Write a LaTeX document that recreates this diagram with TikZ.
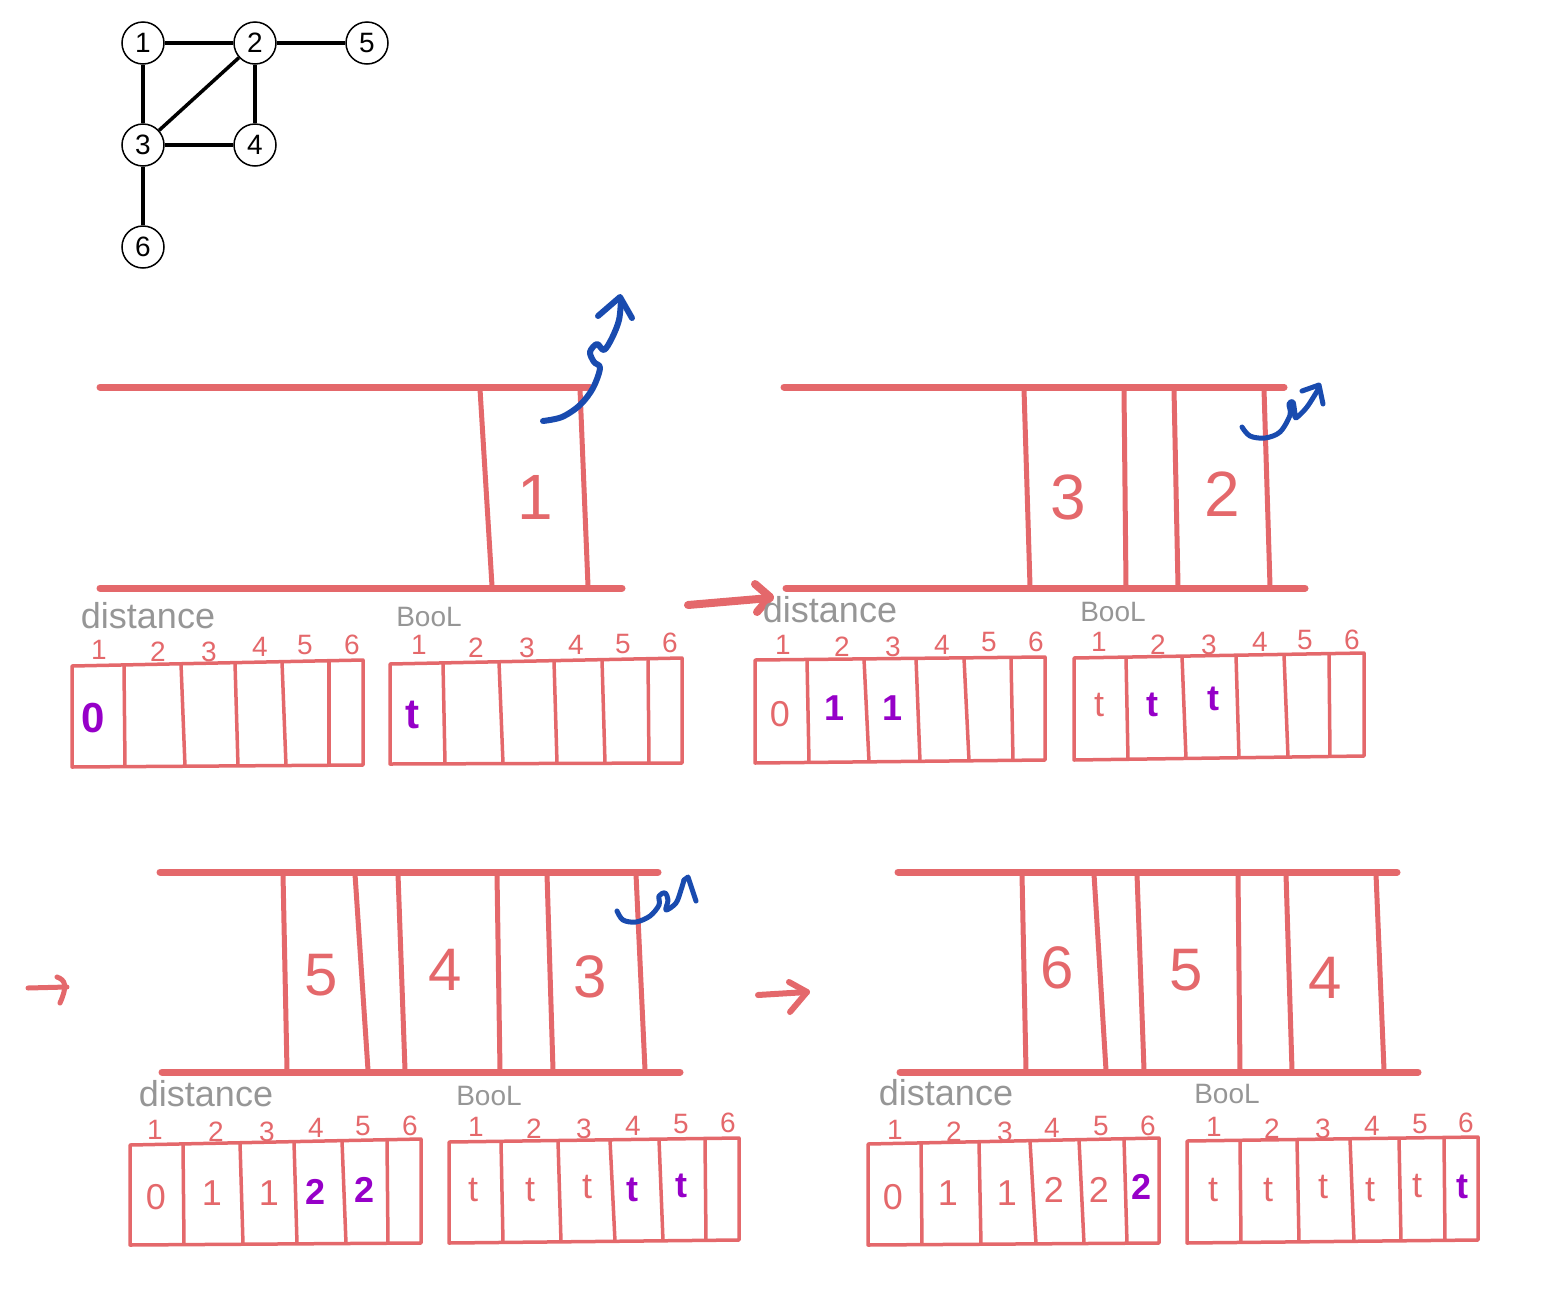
\documentclass[tikz,border=0pt]{standalone}
\usepackage{fontspec}
\setmainfont{Liberation Sans}
\usetikzlibrary{calc}
\definecolor{qred}{RGB}{228,104,107}
\definecolor{qpurple}{RGB}{150,0,200}
\definecolor{qblue}{RGB}{25,75,175}
\definecolor{qgray}{RGB}{150,150,150}
\newcommand\cellbox[8]{%
  \coordinate (#1-tl) at (#2,#4); \coordinate (#1-tr) at (#3,#5);
  \coordinate (#1-br) at (#3,#7); \coordinate (#1-bl) at (#2,#6);
  \draw[cell] (#1-tl) -- (#1-tr) -- (#1-br) -- (#1-bl) -- cycle;
  \foreach \t/\b in {#8}{%
    \pgfmathsetmacro\ft{(\t-#2)/(#3-#2)}%
    \pgfmathsetmacro\fb{(\b-#2)/(#3-#2)}%
    \draw[cell] ($(#1-tl)!\ft!(#1-tr)$) -- ($(#1-bl)!\fb!(#1-br)$);
  }}
\begin{document}
\begin{tikzpicture}[x=0.5pt,y=-0.5pt,
  vtx/.style={circle,draw,line width=0.75pt,minimum size=21pt,inner sep=0pt,font=\fontsize{14}{14}\selectfont},
  edge/.style={line width=1.75pt},
  qline/.style={qred,line width=3.5pt,line cap=round},
  qwall/.style={qred,line width=2.5pt},
  cell/.style={qred,line width=1.75pt,line join=round},
  qlab/.style={text=qred,font=\fontsize{32}{32}\selectfont,inner sep=0pt},
  idx/.style={text=qred,font=\fontsize{14}{14}\selectfont,inner sep=0pt},
  val/.style={text=qred,font=\fontsize{18}{18}\selectfont,inner sep=0pt},
  pval/.style={text=qpurple,font=\fontsize{18}{18}\selectfont\bfseries,inner sep=0pt},
  dlab/.style={text=qgray,font=\fontsize{18}{18}\selectfont,inner sep=0pt},
  blab/.style={text=qgray,font=\fontsize{14}{14}\selectfont,inner sep=0pt},
  bluearr/.style={qblue,line width=3pt,line cap=round,line join=round},
  redarr/.style={qred,line width=3.5pt,line cap=round,line join=round}]
\useasboundingbox (0,0) rectangle (1559,1296);

% ---------- graph ----------
\node[vtx] (g1) at (143,43) {1};
\node[vtx] (g2) at (255,43) {2};
\node[vtx] (g5) at (367,43) {5};
\node[vtx] (g3) at (143,145) {3};
\node[vtx] (g4) at (255,145) {4};
\node[vtx] (g6) at (143,247) {6};
\draw[edge] (g1) -- (g2);
\draw[edge] (g2) -- (g5);
\draw[edge] (g1) -- (g3);
\draw[edge] (g2) -- (g3);
\draw[edge] (g2) -- (g4);
\draw[edge] (g3) -- (g4);
\draw[edge] (g3) -- (g6);

% ---------- queue 1 ----------
\draw[qline] (100,387) -- (590,387);
\draw[qline] (100,588) -- (622,588);
\draw[qwall] (480,389) -- (492,586);
\draw[qwall] (580,389) -- (588,586);
\node[qlab] (q1a) at (535,497) {1};
\draw[bluearr] plot[smooth,tension=0.55] coordinates {(543,421) (562,417) (580,405) (593,388) (600,368) (594,362) (590,352) (597,344) (604,350) (612,338) (619,320) (621,300)};
\draw[bluearr] (598,316) -- (620,297) -- (632,318);

% ---------- queue 2 ----------
\draw[qline] (784,387) -- (1284,387);
\draw[qline] (786,588) -- (1305,588);
\draw[qwall] (1024,389) -- (1030,586);
\draw[qwall] (1124,389) -- (1126,586);
\draw[qwall] (1174,389) -- (1178,586);
\draw[qwall] (1264,389) -- (1270,586);
\node[qlab] (q2a) at (1068,497) {3};
\node[qlab] (q2b) at (1222,494) {2};
\draw[bluearr,line width=2.5pt] plot[smooth,tension=0.55] coordinates {(1242,427) (1250,436) (1265,438) (1280,432) (1290,415) (1289,404) (1293,402) (1295,414) (1296,418) (1307,407) (1319,388)};
\draw[bluearr,line width=2.5pt] (1302,391) -- (1319,385) -- (1323,404);

% arrow queue1 -> queue2
\coordinate (ra1) at (688,605);
\coordinate (ra2) at (770,598);
\draw[redarr,line width=4pt] (ra1) -- (ra2);
\draw[redarr,line width=4pt] (755,584) -- (770,597) -- (757,612);

% ---------- arrays, row 1 ----------
\node[dlab] (d1lab) at (148,616) {distance};
\node[blab] (b1lab) at (429,617) {BooL};
\foreach \x/\y [count=\i] in {99/650,158/652,209/652,260/647,305/645,352/645}
  \node[idx] (d1i\i) at (\x,\y) {\i};
\foreach \x/\y [count=\i] in {419/645,476/648,527/648,576/645,623/644,670/643}
  \node[idx] (b1i\i) at (\x,\y) {\i};
\cellbox{d1}{72}{363}{666}{660}{767}{765}{124/125,181/185,235/238,282/286,329/329}
\cellbox{b1}{390}{682}{664}{658}{764}{763}{443/445,499/503,554/557,602/605,648/649}
\node[pval,font=\fontsize{21}{21}\selectfont\bfseries] (d1v1) at (93,718) {0};
\node[pval,font=\fontsize{21}{21}\selectfont\bfseries] (b1v1) at (412,715) {t};

\node[dlab] (d2lab) at (830,610) {distance};
\node[blab] (b2lab) at (1113,612) {BooL};
\foreach \x/\y [count=\i] in {783/645,842/647,893/647,942/645,989/642,1036/642}
  \node[idx] (d2i\i) at (\x,\y) {\i};
\foreach \x/\y [count=\i] in {1099/642,1158/645,1209/645,1260/642,1305/640,1352/640}
  \node[idx] (b2i\i) at (\x,\y) {\i};
\cellbox{d2}{755}{1045}{660}{657}{763}{760}{807/809,864/869,916/920,964/969,1011/1013}
\cellbox{b2}{1074}{1364}{658}{653}{760}{756}{1126/1128,1182/1186,1236/1239,1284/1288,1329/1330}
\node[val] (d2v1) at (780,714) {0};
\node[pval] (d2v2) at (835,708) {1};
\node[pval] (d2v3) at (893,708) {1};
\node[val] (b2v1) at (1099,705) {t};
\node[pval] (b2v2) at (1152,705) {t};
\node[pval] (b2v3) at (1213,699) {t};

% ---------- queue 3 ----------
\draw[qline] (160,872) -- (658,872);
\draw[qline] (162,1072) -- (680,1072);
\draw[qwall] (283,874) -- (287,1070);
\draw[qwall] (355,874) -- (368,1070);
\draw[qwall] (398,874) -- (405,1070);
\draw[qwall] (497,874) -- (500,1070);
\draw[qwall] (547,874) -- (553,1070);
\draw[qwall] (636,874) -- (645,1070);
\node[qlab,font=\fontsize{30}{30}\selectfont] (q3a) at (321,975) {5};
\node[qlab,font=\fontsize{30}{30}\selectfont] (q3b) at (445,970) {4};
\node[qlab,font=\fontsize{30}{30}\selectfont] (q3c) at (590,977) {3};
\draw[bluearr,line width=2.5pt] plot[smooth,tension=0.55] coordinates {(617,911) (623,920) (636,922) (650,916) (659,905) (659,896) (665,893) (668,900) (666,910) (676,903) (681,890) (684,880)};
\draw[bluearr,line width=2.5pt] (684,880) -- (688,877) -- (696,901);

\coordinate (rb1) at (28,988);
\coordinate (rb2) at (67,987);
\draw[redarr,line width=2.5pt] (rb1) -- (rb2);
\draw[redarr,line width=2.5pt] (57,977) .. controls (65,980) and (68,985) .. (60,1003);

% ---------- queue 4 ----------
\draw[qline] (898,872) -- (1397,872);
\draw[qline] (900,1072) -- (1418,1072);
\draw[qwall] (1022,874) -- (1026,1070);
\draw[qwall] (1094,874) -- (1106,1070);
\draw[qwall] (1137,874) -- (1144,1070);
\draw[qwall] (1238,874) -- (1240,1070);
\draw[qwall] (1286,874) -- (1292,1070);
\draw[qwall] (1376,874) -- (1384,1070);
\node[qlab,font=\fontsize{30}{30}\selectfont] (q4a) at (1057,968) {6};
\node[qlab,font=\fontsize{30}{30}\selectfont] (q4b) at (1186,970) {5};
\node[qlab,font=\fontsize{30}{30}\selectfont] (q4c) at (1325,978) {4};

\coordinate (rc1) at (758,995);
\coordinate (rc2) at (807,992);
\draw[redarr,line width=3pt] (rc1) -- (rc2);
\draw[redarr,line width=3pt] (789,982) -- (807,992) -- (790,1012);

% ---------- arrays, row 2 ----------
\node[dlab] (d3lab) at (206,1094) {distance};
\node[blab] (b3lab) at (489,1096) {BooL};
\foreach \x/\y [count=\i] in {155/1130,216/1132,267/1132,316/1128,363/1126,410/1126}
  \node[idx] (d3i\i) at (\x,\y) {\i};
\foreach \x/\y [count=\i] in {476/1127,534/1129,584/1129,633/1126,681/1124,728/1123}
  \node[idx] (b3i\i) at (\x,\y) {\i};
\cellbox{d3}{130}{421}{1145}{1139}{1245}{1243}{183/184,240/243,294/297,342/346,387/388}
\cellbox{b3}{449}{739}{1142}{1138}{1243}{1240}{501/503,558/561,610/615,659/663,705/706}
\node[val] (d3v1) at (156,1197) {0};
\node[val] (d3v2) at (212,1193) {1};
\node[val] (d3v3) at (269,1193) {1};
\node[pval] (d3v4) at (316,1192) {2};
\node[pval] (d3v5) at (365,1190) {2};
\node[val] (b3v1) at (473,1190) {t};
\node[val] (b3v2) at (530,1190) {t};
\node[val] (b3v3) at (587,1187) {t};
\node[pval] (b3v4) at (632,1190) {t};
\node[pval] (b3v5) at (681,1186) {t};

\node[dlab] (d4lab) at (946,1093) {distance};
\node[blab] (b4lab) at (1227,1094) {BooL};
\foreach \x/\y [count=\i] in {895/1130,954/1132,1005/1132,1052/1128,1101/1126,1148/1126}
  \node[idx] (d4i\i) at (\x,\y) {\i};
\foreach \x/\y [count=\i] in {1214/1127,1272/1129,1323/1129,1372/1126,1420/1124,1466/1123}
  \node[idx] (b4i\i) at (\x,\y) {\i};
\cellbox{d4}{868}{1159}{1144}{1138}{1245}{1243}{921/922,979/981,1030/1036,1079/1084,1124/1127}
\cellbox{b4}{1187}{1478}{1141}{1137}{1243}{1240}{1240/1241,1297/1299,1350/1354,1399/1401,1444/1445}
\node[val] (d4v1) at (893,1197) {0};
\node[val] (d4v2) at (948,1193) {1};
\node[val] (d4v3) at (1007,1193) {1};
\node[val] (d4v4) at (1054,1190) {2};
\node[val] (d4v5) at (1099,1190) {2};
\node[pval] (d4v6) at (1142,1187) {2};
\node[val] (b4v1) at (1213,1190) {t};
\node[val] (b4v2) at (1268,1190) {t};
\node[val] (b4v3) at (1323,1187) {t};
\node[val] (b4v4) at (1370,1190) {t};
\node[val] (b4v5) at (1417,1186) {t};
\node[pval] (b4v6) at (1462,1187) {t};
\end{tikzpicture}
\end{document}
